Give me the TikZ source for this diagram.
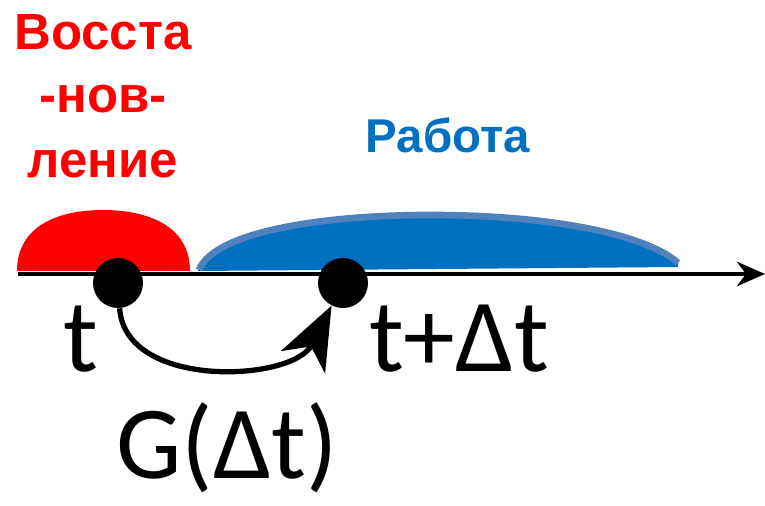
\documentclass[tikz,border=0pt]{standalone}
\usepackage{fontspec}
\setmainfont{Carlito}
\newfontfamily\headfont{Liberation Sans}
\usetikzlibrary{arrows.meta}
\definecolor{recovred}{RGB}{255,0,0}
\definecolor{workblue}{RGB}{0,112,192}
\definecolor{workedge}{RGB}{79,129,189}
\begin{document}
\begin{tikzpicture}[x=0.02cm,y=-0.02cm,
  dot/.style={circle,fill=black,inner sep=0pt,minimum size=1cm},
  bigtext/.style={anchor=base,font=\fontsize{59}{60}\selectfont},
  headtext/.style={anchor=base,font=\headfont\bfseries\fontsize{29}{36}\selectfont}]
\useasboundingbox (0,0) rectangle (765,506);
\fill[recovred] (17,271) .. controls (17,226) and (58,210) .. (103,210)
  .. controls (148,210) and (190,226) .. (190,271) -- cycle;
\fill[workblue] (198,271) .. controls (215,230) and (330,215) .. (430,215)
  .. controls (560,215) and (650,237) .. (678,263) -- (678,267) -- cycle;
\draw[workedge,line width=3.8pt] (199,270) .. controls (215,230) and (330,215) .. (430,215)
  .. controls (560,215) and (650,237) .. (678,263);
\coordinate (ax0) at (18,274);
\coordinate (ax1) at (765,274);
\draw[line width=2.2pt,-{Stealth[length=16pt,width=14pt]}] (ax0) -- (ax1);
\node[dot] (t0) at (118,283) {};
\node[dot] (t1) at (343,283) {};
\draw[line width=3pt,-{Stealth[length=36pt,width=28pt,inset=10pt]}]
  (t0) .. controls (125,390) and (293,382) .. (t1);
\node[bigtext] (lt0) at (81,372) {t};
\node[bigtext] (lt1) at (459,372) {t+Δt};
\node[bigtext] (lg) at (227,479) {G(Δt)};
\node[headtext,text=recovred] (rec1) at (103,50) {Восста};
\node[headtext,text=recovred] (rec2) at (103,113) {-нов-};
\node[headtext,text=recovred] (rec3) at (103,178) {ление};
\node[headtext,text=workblue,font=\headfont\bfseries\fontsize{27}{32}\selectfont] (work) at (448,153) {Работа};
\end{tikzpicture}
\end{document}
